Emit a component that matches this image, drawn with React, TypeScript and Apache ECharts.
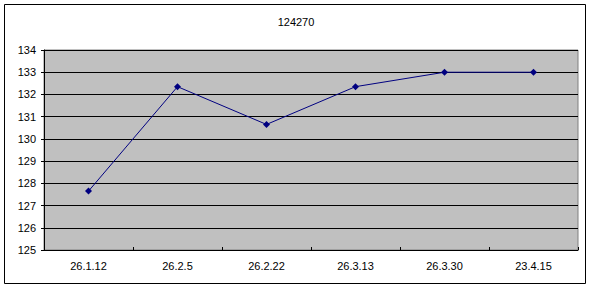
import React, { useEffect, useRef } from "react";
import * as echarts from "echarts";

const titleText = "124270";
const categories = ["26.1.12", "26.2.5", "26.2.22", "26.3.13", "26.3.30", "23.4.15"];
const values = [127.65, 132.35, 130.65, 132.35, 133.0, 133.0];
const yMin = 125;
const yMax = 134;
const yStep = 1;

export default function App() {
  const ref = useRef<HTMLDivElement>(null);
  useEffect(() => {
    document.body.style.margin = "0";
    const chart = echarts.init(ref.current!, null, { renderer: "svg" });
    const font = "'Liberation Sans', Arial, sans-serif";
    chart.setOption({
      animation: false,
      backgroundColor: "#ffffff",
      title: {
        text: titleText,
        left: "center",
        top: 11,
        textStyle: { fontSize: 11, fontWeight: "normal", color: "#000", fontFamily: font },
      },
      graphic: [
        {
          type: "rect",
          shape: { x: 4.5, y: 4.5, width: 581, height: 279 },
          style: { fill: "none", stroke: "#000", lineWidth: 1 },
          silent: true,
          z: -1,
        },
      ],
      grid: {
        left: 44,
        top: 50,
        right: 14,
        bottom: 38,
        show: true,
        backgroundColor: "#C0C0C0",
        borderColor: "#808080",
        borderWidth: 1,
      },
      xAxis: {
        type: "category",
        data: categories,
        boundaryGap: true,
        axisLine: { show: true, lineStyle: { color: "#000", width: 1 } },
        axisTick: { show: true, inside: true, length: 3, lineStyle: { color: "#000" } },
        axisLabel: { color: "#000", fontSize: 11, margin: 10, fontFamily: font },
        splitLine: { show: false },
      },
      yAxis: {
        type: "value",
        min: yMin,
        max: yMax,
        interval: yStep,
        axisLine: { show: true, lineStyle: { color: "#000", width: 1 } },
        axisTick: { show: true, length: 3, lineStyle: { color: "#000" } },
        axisLabel: { color: "#000", fontSize: 11, margin: 8, fontFamily: font },
        splitLine: { show: true, lineStyle: { color: "#000", width: 1 } },
      },
      series: [
        {
          type: "line",
          data: values,
          symbol: "diamond",
          symbolSize: 7,
          lineStyle: { color: "#000080", width: 1 },
          itemStyle: { color: "#000080" },
        },
      ],
    });
    return () => chart.dispose();
  }, []);
  return <div ref={ref} style={{ width: 592, height: 288 }} />;
}
